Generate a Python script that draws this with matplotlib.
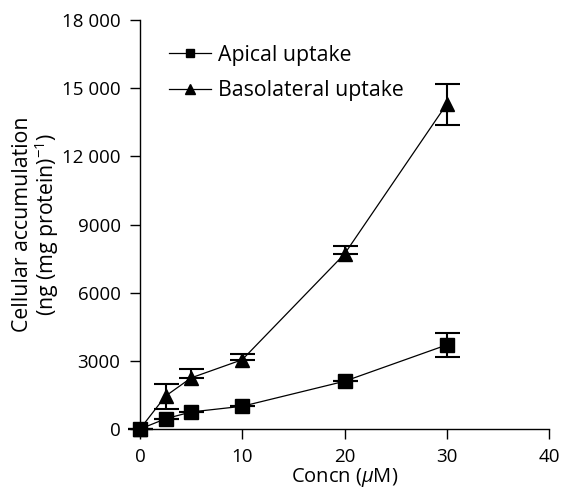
import matplotlib
matplotlib.use('Agg')
import matplotlib.pyplot as plt

plt.rcParams['font.family'] = ['Open Sans', 'DejaVu Sans']
plt.rcParams['mathtext.fontset'] = 'custom'
plt.rcParams['mathtext.it'] = 'Open Sans:italic'
plt.rcParams['mathtext.rm'] = 'Open Sans'

# data
concn = [0, 2.5, 5, 10, 20, 30]
apical = [0, 450, 750, 1000, 2100, 3700]
apical_err_lo = [0, 0, 0, 0, 0, 520]
apical_err_hi = [0, 0, 0, 0, 0, 520]
baso = [0, 1450, 2250, 3050, 7700, 14300]
# lower bars at 5, 10 and 20 are hidden behind the markers
baso_err_lo = [0, 550, 0, 0, 0, 900]
baso_err_hi = [0, 550, 370, 250, 350, 900]

yticks = [0, 3000, 6000, 9000, 12000, 15000, 18000]
ytick_labels = ['0', '3000', '6000', '9000', '12 000', '15 000', '18 000']
xticks = [0, 10, 20, 30, 40]


def main():
    fig = plt.figure(figsize=(5.61, 4.91), dpi=100)
    ax = fig.add_axes([140 / 561, 1 - 429 / 491, 409 / 561, 409 / 491])

    # error bars underneath, markers on top
    ax.errorbar(concn, apical, yerr=[apical_err_lo, apical_err_hi], fmt='none',
                ecolor='black', elinewidth=1.5, capsize=9, capthick=1.5, zorder=2)
    ax.errorbar(concn, baso, yerr=[baso_err_lo, baso_err_hi], fmt='none',
                ecolor='black', elinewidth=1.5, capsize=9, capthick=1.5, zorder=2)
    ax.plot(concn, apical, color='black', lw=0.9, marker='s', ms=9.5,
            label='Apical uptake', zorder=3)
    ax.plot(concn, baso, color='black', lw=0.9, marker='^', ms=10,
            label='Basolateral uptake', zorder=3)

    ax.set_xlim(0, 40)
    ax.set_ylim(0, 18000)
    ax.set_xticks(xticks)
    ax.set_yticks(yticks)
    ax.set_yticklabels(ytick_labels)
    ax.tick_params(direction='out', length=7, width=1, labelsize=13.5)
    ax.tick_params(axis='x', pad=7)
    ax.tick_params(axis='y', pad=7)
    for s in ['top', 'right']:
        ax.spines[s].set_visible(False)
    for s in ['left', 'bottom']:
        ax.spines[s].set_linewidth(1)
    for artist in ax.get_children():
        artist.set_clip_on(False)

    ax.set_xlabel(r'Concn ($\mu$M)', fontsize=14.5, labelpad=0)
    ax.set_ylabel('Cellular accumulation\n(ng (mg protein)$^{-1}$)', fontsize=15.3,
                  linespacing=0.95, labelpad=1)

    ax.legend(loc='upper left', frameon=False,
              bbox_to_anchor=(0.07, 0.94), borderaxespad=0, borderpad=0,
              fontsize=15.3, handlelength=2.0, handletextpad=0.33,
              labelspacing=0.7, markerscale=0.65)

    fig.savefig('out.png', dpi=100)


if __name__ == '__main__':
    main()
